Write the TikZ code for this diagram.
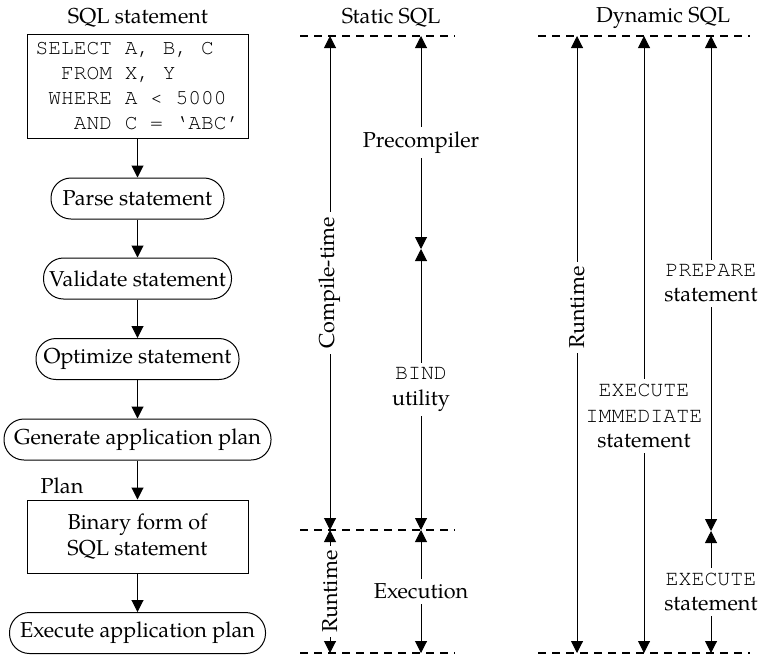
\documentclass[tikz,border=0pt]{standalone}
\usepackage{fontspec}
\setmainfont{texgyrepagella}[Extension=.otf, UprightFont=*-regular, BoldFont=*-bold, ItalicFont=*-italic, BoldItalicFont=*-bolditalic]
\setmonofont{texgyrecursor}[Extension=.otf, UprightFont=*-regular, BoldFont=*-bold, ItalicFont=*-italic, BoldItalicFont=*-bolditalic]
\usetikzlibrary{arrows.meta}

\begin{document}
\begin{tikzpicture}[x=0.5pt, y=-0.5pt,
    >={Triangle[length=6pt, width=6pt]},
    every node/.style={font=\fontsize{10.8}{12.6}\selectfont},
    stepbox/.style={draw, rectangle, rounded corners=10pt, minimum height=20.5pt, inner sep=0pt, line width=0.5pt},
    codebox/.style={draw, rectangle, minimum width=110.5pt, line width=0.5pt},
    flow/.style={->, line width=0.5pt},
    span/.style={<->, line width=0.5pt},
    phase/.style={fill=white, inner sep=2.5pt},
    limit/.style={dash pattern=on 4pt off 3pt, line width=0.6pt}]
        \useasboundingbox (0,0) rectangle (758,654);

        % Column titles
        \node (sqltitle) at (138,18) {SQL statement};
        \node (statictitle) at (391,18) {Static SQL};
        \node (dyntitle) at (663,18) {Dynamic SQL};

        % Processing steps
        \node[codebox, minimum height=52pt, align=left, font=\ttfamily\fontsize{10.6}{12.5}\selectfont] (query) at (137.5,86)
          {SELECT A, B, C\\\phantom{SE}FROM X, Y\\\phantom{S}WHERE A < 5000\\\phantom{SEL}AND C = ‘ABC’};
        \node[stepbox, minimum width=86.5pt] (parse) at (137.5,198.5) {Parse statement};
        \node[stepbox, minimum width=94pt] (validate) at (137.5,278.5) {Validate statement};
        \node[stepbox, minimum width=101.5pt] (optimize) at (137.5,359) {Optimize statement};
        \node[stepbox, minimum width=133.5pt] (generate) at (137.5,439.5) {Generate application plan};
        \node[codebox, minimum height=36.5pt, align=center] (binary) at (137.5,536.5) {Binary form of\\SQL statement};
        \node[stepbox, minimum width=128pt] (execute) at (137.5,633) {Execute application plan};
        \node (planlabel) at (62,486) {Plan};

        \foreach \a/\b in {query/parse, parse/validate, validate/optimize, optimize/generate, generate/binary, binary/execute}
          \draw[flow] (\a) -- (\b);

        % Phase boundaries
        \draw[limit] (300,36) -- (455,36);
        \draw[limit] (300,530) -- (455,530);
        \draw[limit] (300,653) -- (455,653);
        \draw[limit] (538,36) -- (750,36);
        \draw[limit] (538,653) -- (750,653);

        \foreach \x/\n in {330/sa, 421/sb, 577/da, 644/db, 711/dc} {
          \coordinate (\n-top) at (\x,36);
          \coordinate (\n-bot) at (\x,653);
        }
        \coordinate (sa-mid) at (330,530);
        \coordinate (sb-pre) at (421,249);
        \coordinate (sb-mid) at (421,530);
        \coordinate (dc-mid) at (711,531);

        % Static SQL
        \draw[span] (sa-mid) -- node[phase, sloped] {Compile-time} (sa-top);
        \draw[span] (sa-bot) -- node[phase, sloped] {Runtime} (sa-mid);
        \draw[span] (sb-pre) -- node[phase] {Precompiler} (sb-top);
        \draw[span] (sb-mid) -- node[phase, align=center] {\texttt{BIND}\\utility} (sb-pre);
        \draw[span] (sb-bot) -- node[phase] {Execution} (sb-mid);

        % Dynamic SQL
        \draw[span] (da-bot) -- node[phase, sloped, pos=0.56] {Runtime} (da-top);
        \draw[span] (db-bot) -- node[phase, align=center, pos=0.384] {\texttt{EXECUTE}\\\texttt{IMMEDIATE}\\statement} (db-top);
        \draw[span] (dc-mid) -- node[phase, align=center] {\texttt{PREPARE}\\statement} (dc-top);
        \draw[span] (dc-bot) -- node[phase, align=center] {\texttt{EXECUTE}\\statement} (dc-mid);
      \end{tikzpicture}
\end{document}
